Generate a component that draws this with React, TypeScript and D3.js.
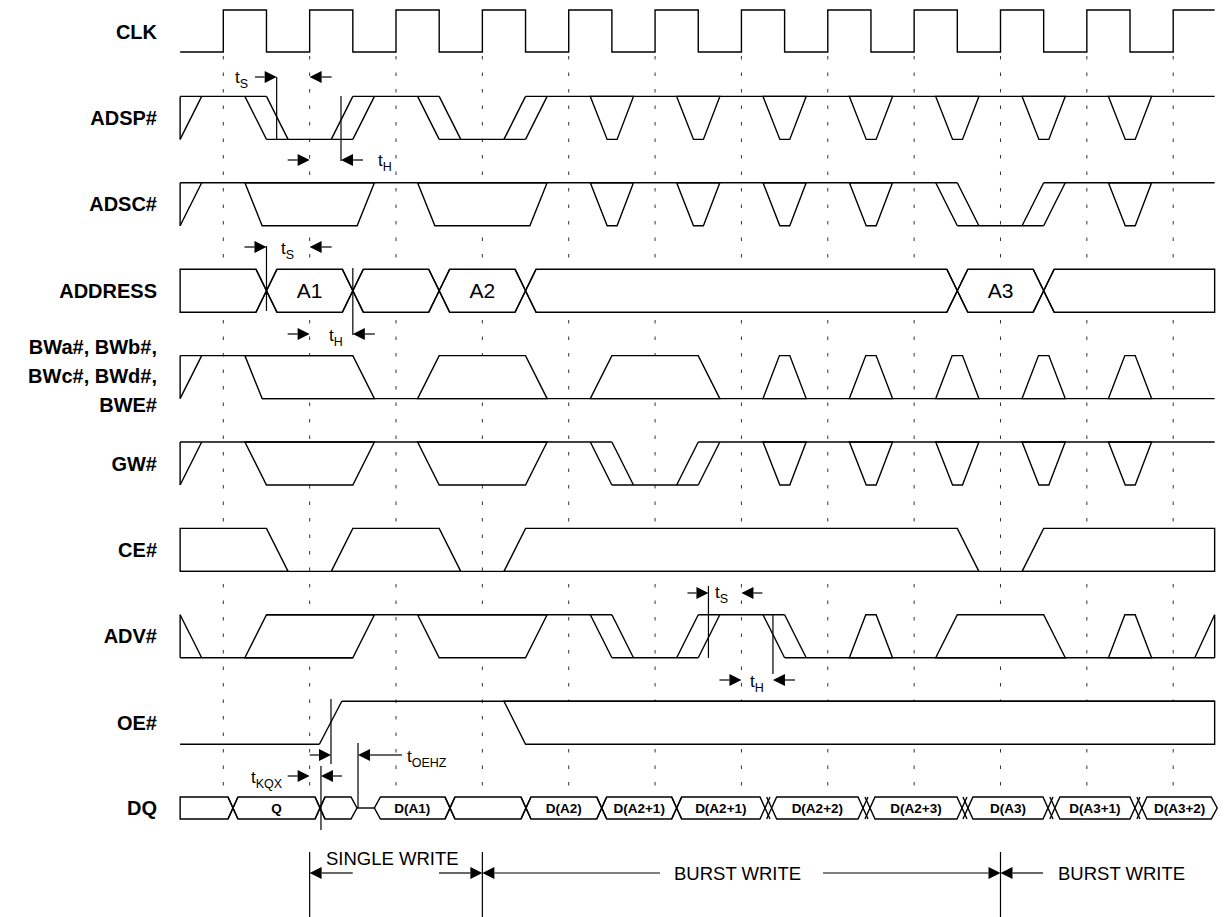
import React from 'react';
import * as d3 from 'd3';

type Item = any[];

// ---- time span (in clock cycles, 0 = first rising edge) ----
const T0 = -0.5;
const T1 = 11.48;

// ---- clock ----
const CLOCK_RISES = [0, 1, 2, 3, 4, 5, 6, 7, 8, 9, 10, 11];
const CLOCK_HIGH_TIME = 0.5;

// ---- signal names ----
const SIGNAL_LABELS = [
  ['CLK'], ['ADSP#'], ['ADSC#'], ['ADDRESS'],
  ['BWa#, BWb#,', 'BWc#, BWd#,', 'BWE#'],
  ['GW#'], ['CE#'], ['ADV#'], ['OE#'], ['DQ'],
];

// ---- waveforms (times in clock cycles, level 1 = high, 0 = low) ----
const ADSP_WAVE: Item[] = [
  ['SR'],
  ['H', T0, 0.5], ['F2', 0.25], ['L', 0.5, 1.5], ['R2', 1.25],
  ['H', 1.5, 2.5], ['F2', 2.25], ['L', 2.5, 3.5], ['R2', 3.25],
  ['H', 3.5, T1],
  ['V', 4.25], ['V', 5.25], ['V', 6.25], ['V', 7.25], ['V', 8.25], ['V', 9.25], ['V', 10.25],
];

const ADSC_WAVE: Item[] = [
  ['SR'],
  ['H', T0, 8.5],
  ['TL', 0.25, 0.45, 1.55, 1.75], ['TL', 2.25, 2.45, 3.55, 3.75],
  ['V', 4.25], ['V', 5.25], ['V', 6.25], ['V', 7.25],
  ['F2', 8.25], ['L', 8.5, 9.5], ['R2', 9.25],
  ['H', 9.5, T1], ['V', 10.25],
];

const ADDRESS_EDGES = [T0, 0.5, 1.5, 2.5, 3.5, 8.5, 9.5, T1];
const ADDRESS_LABELS = ['', 'A1', '', 'A2', '', 'A3', ''];

const BW_WAVE: Item[] = [
  ['SR'],
  ['H', T0, 1.5],
  ['POLY', [[0.25, 1], [1.5, 1], [1.75, 0], [0.45, 0]]],
  ['L', 0.45, T1],
  ['TH', 2.25, 2.5, 3.5, 3.75], ['TH', 4.25, 4.5, 5.5, 5.75],
  ['A', 6.25], ['A', 7.25], ['A', 8.25], ['A', 9.25], ['A', 10.25],
];

const GW_WAVE: Item[] = [
  ['SR'],
  ['H', T0, 4.5],
  ['TL', 0.25, 0.5, 1.5, 1.75], ['TL', 2.25, 2.5, 3.5, 3.75],
  ['F2', 4.25], ['L', 4.5, 5.5], ['R2', 5.25],
  ['H', 5.5, T1],
  ['V', 6.25], ['V', 7.25], ['V', 8.25], ['V', 9.25], ['V', 10.25],
];

const CE_WAVE: Item[] = [
  ['L', T0, T1],
  ['POLY', [[T0, 1], [0.5, 1], [0.75, 0], [T0, 0]]],
  ['TH', 1.25, 1.5, 2.5, 2.75],
  ['TH', 3.25, 3.5, 8.5, 8.75],
  ['POLY', [[9.25, 0], [9.5, 1], [T1, 1], [T1, 0]]],
];

const ADV_WAVE: Item[] = [
  ['SF'],
  ['L', T0, 1.5],
  ['POLY', [[0.25, 0], [0.5, 1], [1.75, 1], [1.5, 0]]],
  ['H', 0.5, 4.5],
  ['TL', 2.25, 2.5, 3.5, 3.75],
  ['F2', 4.25], ['L', 4.5, 5.5], ['R2', 5.25],
  ['H', 5.5, 6.5], ['F2', 6.25],
  ['L', 6.5, T1],
  ['A', 7.25], ['TH', 8.25, 8.5, 9.5, 9.75], ['A', 10.25],
  ['S', 11.25, 0, T1, 1], ['E'],
];

const OE_WAVE: Item[] = [
  ['L', T0, 1.113], ['S', 1.113, 0, 1.372, 1], ['H', 1.372, T1],
  ['POLY', [[3.25, 1], [T1, 1], [T1, 0], [3.5, 0]]],
];

const DQ_STARTS = [T0, 0.112, 1.12, 1.75, 2.625, 3.505, 4.382, 5.25, 6.35, 7.489, 8.623, 9.63, 10.638];
const DQ_ENDS = [0.112, 1.12, 1.548, 2.625, 3.505, 4.382, 5.25, 6.273, 7.408, 8.554, 9.55, 10.557, 11.51];
const DQ_LABELS = ['', 'Q', '', 'D(A1)', '', 'D(A2)', 'D(A2+1)', 'D(A2+1)', 'D(A2+2)', 'D(A2+3)', 'D(A3)', 'D(A3+1)', 'D(A3+2)'];
const DQ_LEFT = ['flat', 'x', 'x', 'tip', 'x', 'x', 'x', 'x', 'x', 'x', 'x', 'x', 'x'];
const DQ_RIGHT = ['x', 'x', 'tip', 'x', 'x', 'x', 'x', 'x', 'x', 'x', 'x', 'x', 'tip'];
const DQ_HIGHZ = [1.548, 1.75];

const PHASE_LABELS = ['SINGLE WRITE', 'BURST WRITE', 'BURST WRITE'];
const PHASE_BOUNDS = [1, 3, 9];

// ---- layout ----
const W = 1225;
const H = 917;
const FONT = 'Liberation Sans, Arial, Helvetica, sans-serif';
const SW = 1.4;

const x = d3.scaleLinear().domain([0, 11]).range([223.3, 1173.2]);
const rowTop = d3.scaleLinear().domain([0, 9]).range([10, 787.6]);
const LEVEL_H = 43;

function renderWave(items: Item[], hi: number, lo: number, key: string) {
  const Y = (l: number) => (l ? hi : lo);
  const fills: any[] = [];
  const lines: any[] = [];
  let k = 0;
  const seg = (t0: number, l0: number, t1: number, l1: number) =>
    lines.push(<line key={key + 'l' + k++} x1={x(t0)} y1={Y(l0)} x2={x(t1)} y2={Y(l1)} stroke="#000" strokeWidth={SW} />);
  const vert = (t: number) =>
    lines.push(<line key={key + 'v' + k++} x1={x(t)} y1={hi} x2={x(t)} y2={lo} stroke="#000" strokeWidth={SW} />);
  const poly = (pts: number[][]) => {
    const d = d3.line()(pts.map(([t, l]) => [x(t), Y(l)] as [number, number])) + 'Z';
    fills.push(<path key={key + 'p' + k++} d={d} fill="#fff" stroke="#000" strokeWidth={SW} strokeLinejoin="miter" />);
  };
  items.forEach((it) => {
    const [type, a, b, c, d] = it;
    switch (type) {
      case 'H': seg(a, 1, b, 1); break;
      case 'L': seg(a, 0, b, 0); break;
      case 'F2': seg(a, 1, a + 0.25, 0); seg(a + 0.25, 1, a + 0.5, 0); break;
      case 'R2': seg(a, 0, a + 0.25, 1); seg(a + 0.25, 0, a + 0.5, 1); break;
      case 'V': poly([[a, 1], [a + 0.195, 0], [a + 0.31, 0], [a + 0.5, 1]]); break;
      case 'A': poly([[a, 0], [a + 0.19, 1], [a + 0.31, 1], [a + 0.5, 0]]); break;
      case 'TL': poly([[a, 1], [b, 0], [c, 0], [d, 1]]); break;
      case 'TH': poly([[a, 0], [b, 1], [c, 1], [d, 0]]); break;
      case 'POLY': poly(a); break;
      case 'SR': vert(T0); seg(T0, 0, -0.25, 1); break;
      case 'SF': vert(T0); seg(T0, 1, -0.25, 0); break;
      case 'S': seg(a, b, c, d); break;
      case 'E': vert(T1); break;
    }
  });
  return [...fills, ...lines];
}

function busShapes(
  starts: number[], ends: number[], lefts: string[], rights: string[], labels: string[],
  top: number, bot: number, hx: number, ht: number, fontSize: number, bold: boolean, key: string
) {
  const mid = (top + bot) / 2;
  const fills: any[] = [];
  const ext: any[] = [];
  const texts: any[] = [];
  starts.forEach((s, i) => {
    const x0 = x(s);
    const x1 = x(ends[i]);
    const lh = lefts[i] === 'x' ? hx : lefts[i] === 'tip' ? ht : 0;
    const rh = rights[i] === 'x' ? hx : rights[i] === 'tip' ? ht : 0;
    const pts: [number, number][] = [];
    pts.push([x0 + lh, top]);
    pts.push([x1 - rh, top]);
    if (rh) pts.push([x1, mid]);
    pts.push([x1 - rh, bot]);
    pts.push([x0 + lh, bot]);
    if (lh) pts.push([x0, mid]);
    fills.push(<path key={key + 'f' + i} d={d3.line()(pts) + 'Z'} fill="#fff" stroke="#000" strokeWidth={SW} />);
    if (rights[i] === 'x') {
      ext.push(<path key={key + 're' + i} d={`M${x1},${mid}L${x1 + hx},${top}M${x1},${mid}L${x1 + hx},${bot}`} stroke="#000" strokeWidth={SW} fill="none" />);
    }
    if (lefts[i] === 'x') {
      ext.push(<path key={key + 'le' + i} d={`M${x0},${mid}L${x0 - hx},${top}M${x0},${mid}L${x0 - hx},${bot}`} stroke="#000" strokeWidth={SW} fill="none" />);
    }
    if (labels[i]) {
      texts.push(
        <text key={key + 't' + i} x={(x0 + x1) / 2} y={mid} textAnchor="middle" dominantBaseline="central" fill="#000"
          fontSize={fontSize} fontWeight={bold ? 'bold' : 'normal'} fontFamily={FONT}>{labels[i]}</text>
      );
    }
  });
  return [...fills, ...ext, ...texts];
}

function Arrow({ tip, tail, y }: { tip: number; tail: number; y: number }) {
  const dir = tip > tail ? 1 : -1;
  const L = 12;
  const Wd = 6;
  return (
    <g>
      <line x1={tail} y1={y} x2={tip - dir * L} y2={y} stroke="#000" strokeWidth={1.2} />
      <path d={`M${tip},${y}L${tip - dir * L},${y - Wd}L${tip - dir * L},${y + Wd}Z`} fill="#000" />
    </g>
  );
}

function TLabel({ x: tx, y, sub }: { x: number; y: number; sub: string }) {
  return (
    <text x={tx} y={y} fontFamily={FONT} fontSize={17} fill="#000">
      t<tspan dy={5} fontSize={12.5} fill="#000">{sub}</tspan>
    </text>
  );
}

function VLine({ t, y1, y2 }: { t: number; y1: number; y2: number }) {
  return <line x1={x(t)} y1={y1} x2={x(t)} y2={y2} stroke="#000" strokeWidth={1.2} />;
}

export default function App() {
  const rows = [ADSP_WAVE, ADSC_WAVE, null, BW_WAVE, GW_WAVE, CE_WAVE, ADV_WAVE, OE_WAVE];
  // clock path
  const cHi = rowTop(0);
  const cLo = cHi + 42;
  let clk = `M${x(T0)},${cLo}`;
  CLOCK_RISES.forEach((r) => {
    const f = Math.min(r + CLOCK_HIGH_TIME, T1);
    clk += `L${x(r)},${cLo}L${x(r)},${cHi}L${x(f)},${cHi}`;
    if (r + CLOCK_HIGH_TIME <= T1) clk += `L${x(f)},${cLo}`;
  });

  const dqTop = 797;
  const dqBot = 819;

  return (
    <svg width={W} height={H} style={{ position: 'fixed', left: 0, top: 0, background: '#fff' }}>
      <rect x={0} y={0} width={W} height={H} fill="#fff" />
      {/* dashed clock reference lines */}
      {CLOCK_RISES.map((r) => (
        <line key={'dash' + r} x1={x(r)} y1={56} x2={x(r)} y2={830} stroke="#333" strokeWidth={1} strokeDasharray="3.5 13" />
      ))}

      {/* labels */}
      {SIGNAL_LABELS.map((lines, i) => {
        const cy = i === 9 ? 808 : rowTop(i) + 21.5 - (i === 4 ? 1.5 : 0);
        return lines.map((s, j) => (
          <text key={'lab' + i + j} x={157} y={cy + (j - (lines.length - 1) / 2) * 29} textAnchor="end" fill="#000"
            dominantBaseline="central" fontFamily={FONT} fontWeight="bold" fontSize={20}>{s}</text>
        ));
      })}

      {/* clock */}
      <path d={clk} fill="none" stroke="#000" strokeWidth={SW} />

      {/* control waves */}
      {rows.map((items, i) => {
        if (!items) return null;
        const hi = rowTop(i + 1);
        return <g key={'row' + i}>{renderWave(items, hi, hi + LEVEL_H, 'w' + i)}</g>;
      })}

      {/* address bus */}
      <g>
        {busShapes(
          ADDRESS_EDGES.slice(0, -1), ADDRESS_EDGES.slice(1),
          ADDRESS_EDGES.slice(0, -1).map((_, i) => (i === 0 ? 'flat' : 'x')),
          ADDRESS_EDGES.slice(1).map((_, i, arr) => (i === arr.length - 1 ? 'flat' : 'x')),
          ADDRESS_LABELS, rowTop(3), rowTop(3) + LEVEL_H, 10.5, 10.5, 21, false, 'addr'
        )}
      </g>

      {/* DQ bus */}
      <g>
        {busShapes(DQ_STARTS, DQ_ENDS, DQ_LEFT, DQ_RIGHT, DQ_LABELS, dqTop, dqBot, 5, 6, 13.5, true, 'dq')}
        <line x1={x(DQ_HIGHZ[0])} y1={(dqTop + dqBot) / 2} x2={x(DQ_HIGHZ[1])} y2={(dqTop + dqBot) / 2} stroke="#000" strokeWidth={SW} />
      </g>

      {/* ADSP# setup / hold */}
      <VLine t={0.618} y1={77} y2={139} />
      <Arrow tip={x(0.618)} tail={255} y={77} />
      <Arrow tip={x(1)} tail={x(1) + 22} y={77} />
      <TLabel x={235} y={83} sub="S" />
      <VLine t={1.363} y1={96} y2={161} />
      <Arrow tip={x(1)} tail={x(1) - 22} y={160} />
      <Arrow tip={x(1.363)} tail={x(1.363) + 22} y={160} />
      <TLabel x={378} y={166} sub="H" />

      {/* ADDRESS setup / hold */}
      <VLine t={0.5} y1={246} y2={311} />
      <Arrow tip={x(0.5)} tail={x(0.5) - 22} y={247} />
      <Arrow tip={x(1)} tail={x(1) + 22} y={247} />
      <TLabel x={281} y={254} sub="S" />
      <VLine t={1.5} y1={268} y2={335} />
      <Arrow tip={x(1)} tail={x(1) - 22} y={334} />
      <Arrow tip={x(1.5)} tail={x(1.5) + 22} y={334} />
      <TLabel x={329} y={341} sub="H" />

      {/* ADV# setup / hold */}
      <VLine t={5.618} y1={586} y2={658} />
      <Arrow tip={x(5.618)} tail={x(5.618) - 21} y={593} />
      <Arrow tip={x(6)} tail={x(6) + 21} y={593} />
      <TLabel x={715} y={598} sub="S" />
      <VLine t={6.365} y1={614} y2={674} />
      <Arrow tip={x(6)} tail={x(6) - 22} y={680} />
      <Arrow tip={x(6.365)} tail={x(6.365) + 22} y={680} />
      <TLabel x={750} y={687} sub="H" />

      {/* OE# / DQ timing */}
      <VLine t={1.247} y1={699} y2={764} />
      <Arrow tip={x(1.247)} tail={x(1)} y={755} />
      <VLine t={1.56} y1={743} y2={808} />
      <Arrow tip={x(1.56)} tail={402} y={755} />
      <TLabel x={407} y={762} sub="OEHZ" />
      <VLine t={1.131} y1={766} y2={830} />
      <Arrow tip={x(1)} tail={x(1) - 22} y={776} />
      <Arrow tip={x(1.131)} tail={x(1.131) + 21} y={776} />
      <TLabel x={251} y={783} sub="KQX" />

      {/* write phases */}
      {PHASE_BOUNDS.map((t) => <VLine key={'pb' + t} t={t} y1={852} y2={917} />)}
      <Arrow tip={x(PHASE_BOUNDS[0])} tail={352.7} y={873} />
      <Arrow tip={x(PHASE_BOUNDS[1])} tail={439} y={873} />
      <text x={326} y={865} fontFamily={FONT} fontSize={18.5} fill="#000">{PHASE_LABELS[0]}</text>
      <Arrow tip={x(PHASE_BOUNDS[1])} tail={660} y={873} />
      <text x={674} y={880} fontFamily={FONT} fontSize={18.5} fill="#000">{PHASE_LABELS[1]}</text>
      <Arrow tip={x(PHASE_BOUNDS[2])} tail={823} y={873} />
      <Arrow tip={x(PHASE_BOUNDS[2])} tail={1043} y={873} />
      <text x={1058} y={880} fontFamily={FONT} fontSize={18.5} fill="#000">{PHASE_LABELS[2]}</text>
    </svg>
  );
}
